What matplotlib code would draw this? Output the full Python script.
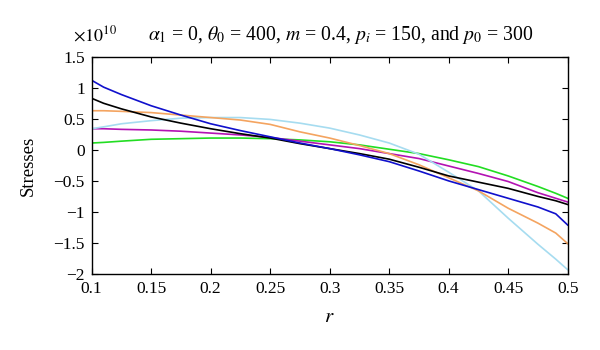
import matplotlib
matplotlib.use("Agg")
import matplotlib.pyplot as plt

plt.rcParams['font.family'] = ['Liberation Serif', 'DejaVu Serif']
plt.rcParams['mathtext.fontset'] = 'stix'

r = [0.1, 0.11, 0.125, 0.15, 0.175, 0.2, 0.225, 0.25, 0.275, 0.3, 0.325,
     0.35, 0.375, 0.4, 0.425, 0.45, 0.475, 0.49, 0.5]

# stresses in units of 1e10
blue = [1.12, 1.01, 0.89, 0.71, 0.56, 0.42, 0.31, 0.21, 0.11, 0.02, -0.08,
        -0.19, -0.34, -0.50, -0.64, -0.78, -0.92, -1.03, -1.21]
black = [0.83, 0.75, 0.66, 0.53, 0.43, 0.34, 0.26, 0.19, 0.10, 0.02, -0.06,
         -0.15, -0.28, -0.42, -0.52, -0.62, -0.75, -0.82, -0.88]
orange = [0.63, 0.63, 0.62, 0.60, 0.56, 0.52, 0.48, 0.41, 0.29, 0.19, 0.07,
          -0.06, -0.24, -0.45, -0.66, -0.94, -1.18, -1.34, -1.51]
skyblue = [0.34, 0.37, 0.42, 0.47, 0.51, 0.52, 0.52, 0.49, 0.43, 0.35, 0.24,
           0.11, -0.07, -0.36, -0.66, -1.10, -1.52, -1.76, -1.93]
magenta = [0.34, 0.34, 0.33, 0.32, 0.30, 0.27, 0.24, 0.20, 0.14, 0.08, 0.02,
           -0.06, -0.14, -0.26, -0.38, -0.51, -0.69, -0.78, -0.84]
green = [0.11, 0.12, 0.14, 0.17, 0.18, 0.19, 0.19, 0.18, 0.16, 0.13, 0.08,
         0.01, -0.06, -0.16, -0.27, -0.42, -0.59, -0.70, -0.78]

series = [
    (green, '#22dd22'),
    (magenta, '#b313b3'),
    (skyblue, '#a6dcf0'),
    (orange, '#f4a460'),
    (black, '#000000'),
    (blue, '#1010cc'),
]

xticks = [0.1, 0.15, 0.2, 0.25, 0.3, 0.35, 0.4, 0.45, 0.5]
xticklabels = ['0.1', '0.15', '0.2', '0.25', '0.3', '0.35', '0.4', '0.45', '0.5']
yticks = [-2, -1.5, -1, -0.5, 0, 0.5, 1, 1.5]
yticklabels = ['\u22122', '\u22121.5', '\u22121', '\u22120.5', '0', '0.5', '1', '1.5']

fig = plt.figure(figsize=(6, 3.5), dpi=100)
ax = fig.add_axes([0.1528, 0.217, 0.7933, 0.621])

for vals, col in series:
    ax.plot(r, vals, color=col, lw=1.2)

ax.set_xlim(0.1, 0.5)
ax.set_ylim(-2, 1.5)
ax.set_xticks(xticks)
ax.set_xticklabels(xticklabels)
ax.set_yticks(yticks)
ax.set_yticklabels(yticklabels)
ax.tick_params(direction='in', length=4, width=0.8, top=True, right=True,
               labelsize=12.5, pad=5)
for s in ax.spines.values():
    s.set_linewidth(1.0)

ax.set_xlabel('$r$', fontsize=15, labelpad=8)
ax.set_ylabel('Stresses', fontsize=13.5, labelpad=12)

fig.text(0.122, 0.9, r'$\times10^{10}$', fontsize=13, ha='left', va='center')
fig.text(0.247, 0.9,
         r'$\alpha_1$ = 0, $\theta_0$ = 400, $m$ = 0.4, $p_i$ = 150, and $p_0$ = 300',
         fontsize=14.2, ha='left', va='center')

fig.savefig('out.png', dpi=100)
